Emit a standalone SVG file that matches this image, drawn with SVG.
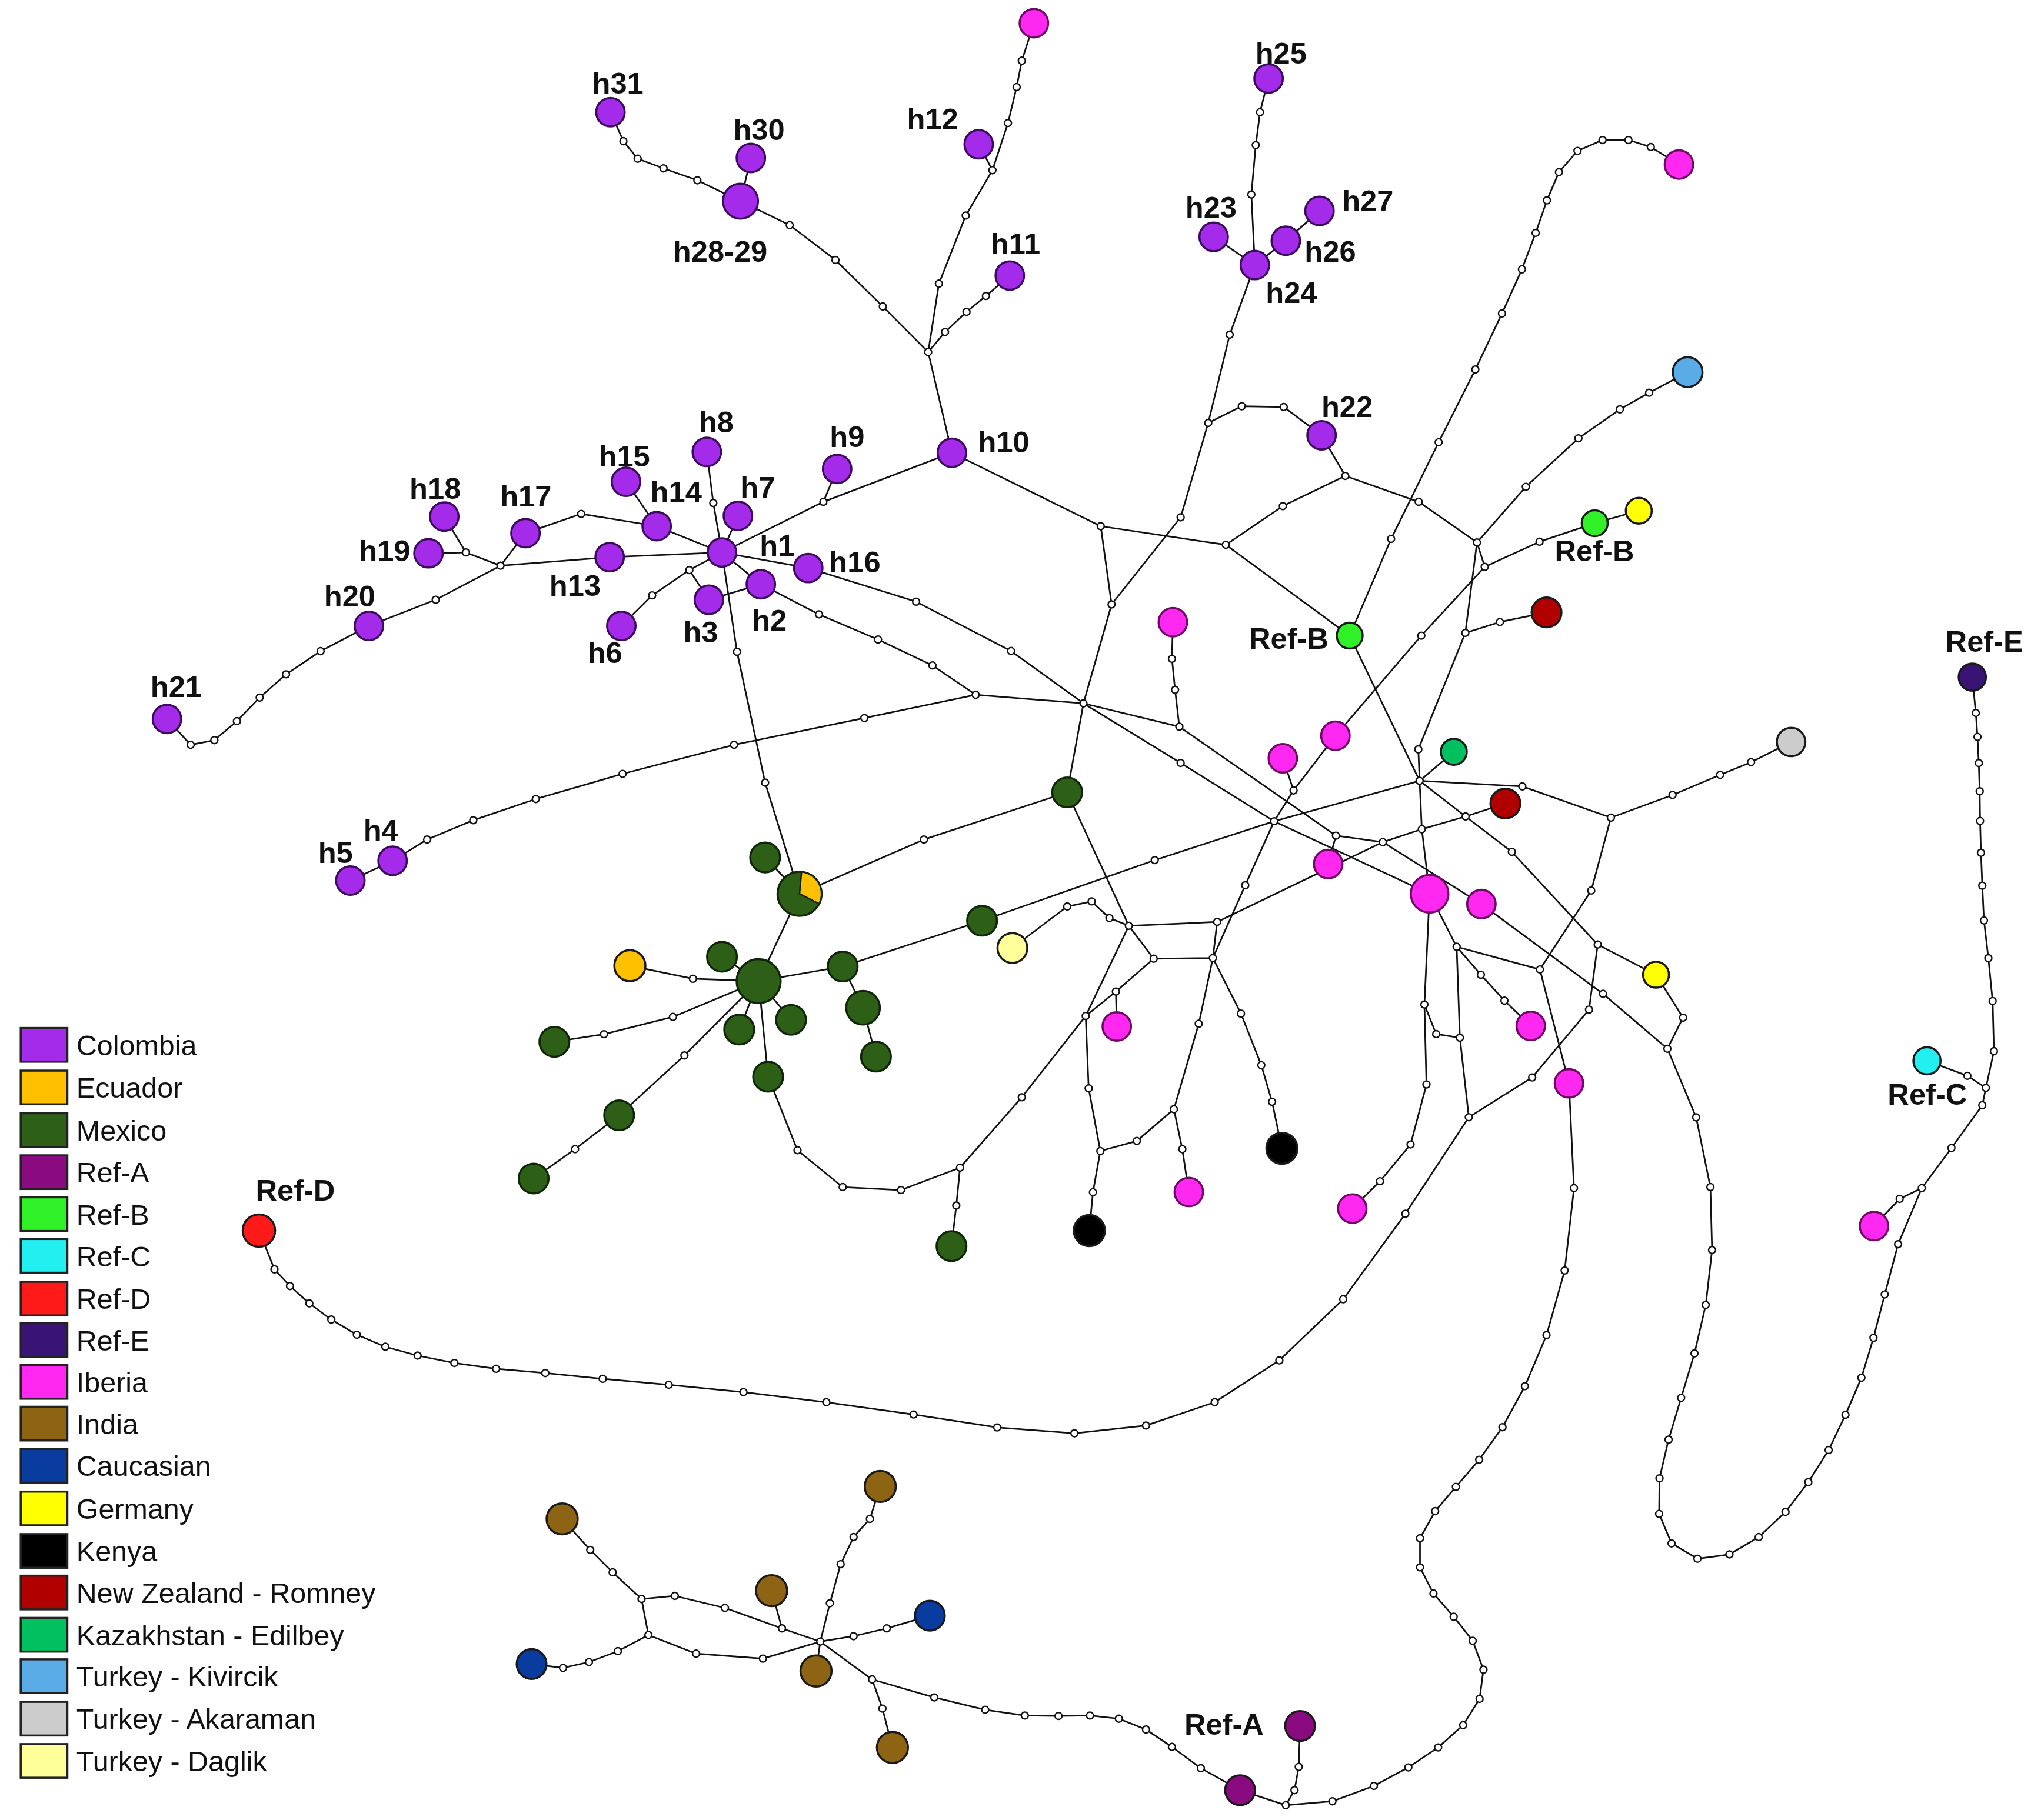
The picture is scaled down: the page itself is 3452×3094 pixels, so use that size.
<svg xmlns="http://www.w3.org/2000/svg" width="3452" height="3094" viewBox="0 0 3452 3094">
<style>
.e{fill:none;stroke:#111;stroke-width:1.25;stroke-linejoin:round}
.mv{fill:#fff;stroke:#111;stroke-width:1.1}
.n{stroke:#1a1a1a;stroke-width:1.6}
.c{fill:#A52BEA;stroke:#3B0B5C}
.ib{fill:#FF28F0;stroke:#6E0A63}
.mx{fill:#2D5F16;stroke:#10260A}
.ec{fill:#FFC000}
.ra{fill:#8A0A80}
.rb{fill:#30F028}
.rc{fill:#22F0F0}
.rd{fill:#FF1A1A}
.re{fill:#3A1474}
.in{fill:#8C6414}
.ca{fill:#0A3CA0}
.ge{fill:#FFFF00}
.ke{fill:#000}
.nz{fill:#B00000}
.kz{fill:#00C060}
.tk{fill:#5AACE6}
.ta{fill:#CCCCCC}
.td{fill:#FFFF9A}
.lb{font-family:"Liberation Sans",Arial,sans-serif;font-weight:bold;font-size:23px;fill:#111;text-anchor:middle}
.lg{font-family:"Liberation Sans",Arial,sans-serif;font-size:22px;fill:#111}
.sq{stroke:#222;stroke-width:1.6}
</style>
<rect width="3452" height="3094" fill="#fff"/>
<g transform="scale(2.2015 2.2021)">
<g id="connectors">
<path class="e" d="M471.3,86.6 L481.3,109 L492.3,122.5 L512.3,130 L538.4,139.2 L571.7,155.3"/>
<path class="e" d="M571.7,155.3 L579.7,121.9"/>
<path class="e" d="M571.7,155.3 L609.7,173.8 L645,200.7 L681.6,236.6 L716.6,271.8 L734.9,349.5"/>
<path class="e" d="M716.6,271.8 L724.9,219 L745.6,166.4 L766.2,131.4 L778.2,95 L784.9,67.2 L788.9,46.9 L798.2,17.9"/>
<path class="e" d="M766.2,131.4 L755.6,111.4"/>
<path class="e" d="M716.6,271.8 L729.6,256.3 L746.2,240.8 L761.2,228.5 L779.6,212.7"/>
<path class="e" d="M734.9,349.5 L635.7,387.4 L557.4,426.5"/>
<path class="e" d="M646.3,362 L635.7,387.4"/>
<path class="e" d="M545.7,348.9 L550.7,388.3 L557.4,426.5"/>
<path class="e" d="M569.7,398.2 L557.4,426.5 M624,438.5 L557.4,426.5 M587.4,451 L557.4,426.5 M547.3,463 L587.4,451"/>
<path class="e" d="M557.4,426.5 L532.2,440.1 L503.5,459.6 L479.7,483.2"/>
<path class="e" d="M532.2,440.1 L547.3,463"/>
<path class="e" d="M557.4,426.5 L470.7,430.1 L386.4,436.7"/>
<path class="e" d="M557.4,426.5 L507,406.2 L483.3,371.9"/>
<path class="e" d="M507,406.2 L448.7,396.7 L405.7,411.6 L386.4,436.7"/>
<path class="e" d="M386.4,436.7 L359.7,426.5 L343,398.8"/>
<path class="e" d="M359.7,426.5 L330.8,427.1"/>
<path class="e" d="M386.4,436.7 L336.4,463 L284.8,483.2 L247.5,502.7 L220.8,520.6 L200.5,538.5 L182.9,556.7 L165.5,571.4 L147.2,575 L128.9,555"/>
<path class="e" d="M937,182.8 L968.8,204.6 L992.7,185.8 L1018.7,162.8"/>
<path class="e" d="M979.4,60.6 L972.8,86.6 L969.5,112 L966.1,150.2 L968.8,204.6 L949.4,258.4 L932.8,326.5 L911.5,399.4 L858.2,466.6 L836.5,543 L823.9,611.7"/>
<path class="e" d="M932.8,326.5 L958.7,313.6 L991.1,314.2 L1020.3,336 L1038.6,367.4 L1095.3,387.4 L1140.3,418.8"/>
<path class="e" d="M1038.6,367.4 L990.4,390.7 L946.4,420.6"/>
<path class="e" d="M734.9,349.5 L849.8,406.2 L946.4,420.6 L1042,490.7"/>
<path class="e" d="M849.8,406.2 L858.2,466.6"/>
<path class="e" d="M1302.9,287.3 L1273.2,303.2 L1250.6,316 L1218.6,338.4 L1178,375.8 L1140.3,418.8 L1146.3,437.6 L1188.6,418.2 L1231.2,403.9 L1265.2,394.3"/>
<path class="e" d="M1146.3,437.6 L1097.3,490.7 L1031,568"/>
<path class="e" d="M1140.3,418.8 L1131.3,488.6 L1158,480.2 L1194,472.8"/>
<path class="e" d="M1131.3,488.6 L1095,578.5 L1096,602.8"/>
<path class="e" d="M1296.2,127 L1274.5,113.5 L1257.2,108.1 L1237.2,108.1 L1217.9,116.5 L1203.6,132.9 L1194.3,154.7 L1185.6,179.8 L1175,207.9 L1159.6,242 L1139,285.3 L1110.7,341.4 L1074,416 L1042,490.7 L1096,602.8"/>
<path class="e" d="M1031,568 L998.7,610.2 L983.7,634 L961.4,683.4 L936.4,739.6"/>
<path class="e" d="M990.4,585.4 L998.7,610.2"/>
<path class="e" d="M624,438.5 L707.3,464.5 L780.6,502.6 L836.5,543 L911.5,589 L983.7,634 L1103.7,690"/>
<path class="e" d="M587.4,451 L632.3,474.3 L677.9,493.7 L719.9,513.7 L753.3,536.4"/>
<path class="e" d="M270.5,679.8 L303.1,664.5 L329.8,648.1 L365.4,633.2 L413.7,616.8 L480.7,597.4 L566.7,575 L667.3,554.3 L753.3,536.4 L836.5,543 L910.5,561 L1031.4,645.1"/>
<path class="e" d="M905.5,480.3 L904.8,508.6 L907.2,532.5 L910.5,561"/>
<path class="e" d="M557.4,426.5 L569,503.2 L590.7,604.2 L617.3,690 L585.7,757.4"/>
<path class="e" d="M617.3,690 L590.7,661.9"/>
<path class="e" d="M617.3,690 L713.3,648.1 L823.9,611.7 L871.5,714.7"/>
<path class="e" d="M585.7,757.4 L557.4,738.6 M585.7,757.4 L570.7,794.8 M585.7,757.4 L610.7,787.3 M585.7,757.4 L593,831.2"/>
<path class="e" d="M585.7,757.4 L535,755.6 L486.3,745.5"/>
<path class="e" d="M585.7,757.4 L519.6,785 L466.3,798.4 L428,804.3"/>
<path class="e" d="M585.7,757.4 L528.4,814.8 L478,861 L444,887.1 L412,909.8"/>
<path class="e" d="M585.7,757.4 L650.6,746.1 L666.3,778 L676.3,815.7"/>
<path class="e" d="M650.6,746.1 L758.2,710.8 L891.5,664 L983.7,634 L1096,602.8"/>
<path class="e" d="M593,831.2 L615.7,888 L650.6,916.4 L695.6,918.7 L741.2,901.4 L788.9,847.1 L838.2,784.3 L871.5,714.7"/>
<path class="e" d="M741.2,901.4 L738.3,930.7 L734.6,962"/>
<path class="e" d="M781.6,731.8 L823.9,699.8 L842.8,695.9 L856.5,708.7 L871.5,714.7 L939.7,711.7 L1067.6,650.1"/>
<path class="e" d="M871.5,714.7 L890.7,740.1 L936.4,739.6 L939.7,711.7"/>
<path class="e" d="M890.7,740.1 L861.5,765.5 L838.2,784.3 L840.5,840.2 L849.5,888.6 L843.8,920.4 L841,950"/>
<path class="e" d="M861.5,765.5 L862.2,792.4"/>
<path class="e" d="M849.5,888.6 L877.7,880.8 L906.3,856.3 L925.5,790.3 L936.4,739.6 L958.1,782.5 L973.8,822.3 L982.1,850.6 L989.7,886.5"/>
<path class="e" d="M906.3,856.3 L912.8,887.1 L917.8,920.2"/>
<path class="e" d="M1025.4,667 L1031.4,645.1 L1067.6,650.1 L1097.7,640.1 L1131.5,630.3 L1162.2,620.3"/>
<path class="e" d="M1096,602.8 L1097.7,640.1 L1103.7,690"/>
<path class="e" d="M1067.6,650.1 L1143.7,697.9"/>
<path class="e" d="M1096,602.8 L1122.4,580.4"/>
<path class="e" d="M1096,602.8 L1175.3,607.1 L1243.7,631.2 L1291.3,613.7 L1328,598.2 L1351.9,588.4 L1382.8,572.8"/>
<path class="e" d="M1096,602.8 L1131.5,630.3 L1167.2,657.6 L1233.5,729.2 L1278.5,752.5"/>
<path class="e" d="M1243.7,631.2 L1228.5,687.5 L1188.9,748.4 L1211.3,836.3"/>
<path class="e" d="M1103.7,690 L1124.6,730.9 L1188.9,748.4"/>
<path class="e" d="M1124.6,730.9 L1143.3,752.5 L1161.5,772.5 L1181.8,792"/>
<path class="e" d="M1124.6,730.9 L1127.1,801.1 L1134,862.5"/>
<path class="e" d="M1103.7,690 L1099.7,775.5 L1101.3,837.2 L1089,883.5 L1065.4,911.9 L1044,933"/>
<path class="e" d="M1099.7,775.5 L1108.8,798.3 L1127.1,801.1"/>
<path class="e" d="M1233.5,729.2 L1226.8,779.4 L1182.9,831.8 L1134,862.5"/>
<path class="e" d="M1143.7,697.9 L1237.6,767.2 L1287.3,809.6"/>
<path class="e" d="M1278.5,752.5 L1299.4,785.6 L1287.3,809.6"/>
<path class="e" d="M1287.3,809.6 L1309.5,862.6 L1320.5,916.4 L1321.8,965 L1316.9,1007.4 L1308.2,1044.8 L1297.9,1079.1 L1288.2,1111.4 L1281.2,1141.3 L1280.9,1168.7 L1290.5,1191.5 L1310.5,1203.3 L1335.2,1200 L1357.8,1186.6 L1378.5,1167.2 L1396.1,1144.2 L1411.8,1119.4 L1424.8,1092.2 L1437.1,1063.6 L1446.4,1032.8 L1455.1,999.3 L1465.4,960.5 L1483.7,917.2 L1506.6,886.3 L1530.4,853.2 L1533.2,839.8 L1539.4,811.5 L1538.4,772.8 L1535.1,739.7 L1531.7,710.6 L1530.4,683.7 L1529.4,658.3 L1528.7,633.8 L1528.4,610.9 L1527.7,589.1 L1526.7,568.9 L1525.4,550.4 L1522.7,522.7"/>
<path class="e" d="M1483.7,917.2 L1466.6,925.5 L1446.8,946.5"/>
<path class="e" d="M1533.2,839.8 L1518.9,830.5 L1487.7,818.9"/>
<path class="e" d="M1211.3,836.3 L1215.2,917.2 L1208,980.8 L1194,1030.7 L1177.3,1070.1 L1160,1101.8 L1142,1126.9 L1124,1147.8 L1108,1166.6 L1096.3,1187.5 L1096.3,1210 L1106.7,1230.2 L1122.3,1248.1 L1137,1266.7 L1145.3,1289 L1142.3,1311.5 L1129.6,1331.8 L1110.3,1349 L1087.3,1364.4 L1060.7,1378.7 L1028.7,1390.6 L992.7,1393.6 L957.4,1382 L927.1,1365 L904.8,1348.6 L884.8,1335.2 L863.8,1326.8 L841.5,1324.4 L817.2,1324.7 L791.2,1324.4 L760.6,1319.9 L721.3,1310.4 L673.3,1296.5 L633.3,1267.3"/>
<path class="e" d="M992.7,1393.6 L999.4,1382 L1002.7,1364 L1003.7,1332.4"/>
<path class="e" d="M673.3,1296.5 L681.3,1319 L689,1349"/>
<path class="e" d="M633.3,1267.3 L630,1290"/>
<path class="e" d="M633.3,1267.3 L659,1263.1 L684.6,1257.1 L717.9,1247.3"/>
<path class="e" d="M633.3,1267.3 L640.7,1237.7 L649,1207.5 L659,1186.6 L671.6,1172.6 L679.6,1147.5"/>
<path class="e" d="M633.3,1267.3 L603.7,1257.1 L595.7,1228"/>
<path class="e" d="M603.7,1257.1 L559.7,1241.3 L521,1232 L495.3,1234.4 L473,1213.8 L455.7,1196.5 L434,1172.6"/>
<path class="e" d="M633.3,1267.3 L589,1280.4 L537.4,1276.6 L500.6,1262.2 L477,1274.7 L454.7,1283.1 L434.7,1287.6 L410.4,1284.6"/>
<path class="e" d="M495.3,1234.4 L500.6,1262.2"/>
<path class="e" d="M199.9,950 L211.9,979.9 L223.9,992.8 L238.8,1006.2 L255.8,1018.7 L275.5,1030.4 L297.5,1039.7 L322.4,1046.5 L350.8,1052.2 L383,1056.7 L421,1060 L465.3,1064.4 L516.3,1069 L574,1074.7 L638,1082.5 L705.3,1092 L769.9,1102 L829.5,1106.5 L884.8,1100.5 L937.8,1082.5 L987.7,1050.2 L1037,1003 L1085,937 L1134,862.5"/>
<g id="median-vectors">
<circle class="mv" r="2.7" cx="481.3" cy="109"/><circle class="mv" r="2.7" cx="492.3" cy="122.5"/><circle class="mv" r="2.7" cx="512.3" cy="130"/><circle class="mv" r="2.7" cx="538.4" cy="139.2"/>
<circle class="mv" r="2.7" cx="609.7" cy="173.8"/><circle class="mv" r="2.7" cx="645" cy="200.7"/><circle class="mv" r="2.7" cx="681.6" cy="236.6"/><circle class="mv" r="2.7" cx="716.6" cy="271.8"/>
<circle class="mv" r="2.7" cx="724.9" cy="219"/><circle class="mv" r="2.7" cx="745.6" cy="166.4"/><circle class="mv" r="2.7" cx="766.2" cy="131.4"/><circle class="mv" r="2.7" cx="778.2" cy="95"/><circle class="mv" r="2.7" cx="784.9" cy="67.2"/><circle class="mv" r="2.7" cx="788.9" cy="46.9"/>
<circle class="mv" r="2.7" cx="729.6" cy="256.3"/><circle class="mv" r="2.7" cx="746.2" cy="240.8"/><circle class="mv" r="2.7" cx="761.2" cy="228.5"/>
<circle class="mv" r="2.7" cx="635.7" cy="387.4"/><circle class="mv" r="2.7" cx="550.7" cy="388.3"/><circle class="mv" r="2.7" cx="532.2" cy="440.1"/><circle class="mv" r="2.7" cx="503.5" cy="459.6"/>
<circle class="mv" r="2.7" cx="386.4" cy="436.7"/><circle class="mv" r="2.7" cx="359.7" cy="426.5"/><circle class="mv" r="2.7" cx="448.7" cy="396.7"/><circle class="mv" r="2.7" cx="336.4" cy="463"/>
<circle class="mv" r="2.7" cx="247.5" cy="502.7"/><circle class="mv" r="2.7" cx="220.8" cy="520.6"/><circle class="mv" r="2.7" cx="200.5" cy="538.5"/><circle class="mv" r="2.7" cx="182.9" cy="556.7"/><circle class="mv" r="2.7" cx="165.5" cy="571.4"/><circle class="mv" r="2.7" cx="147.2" cy="575"/>
<circle class="mv" r="2.7" cx="972.8" cy="86.6"/><circle class="mv" r="2.7" cx="969.5" cy="112"/><circle class="mv" r="2.7" cx="966.1" cy="150.2"/>
<circle class="mv" r="2.7" cx="949.4" cy="258.4"/><circle class="mv" r="2.7" cx="932.8" cy="326.5"/><circle class="mv" r="2.7" cx="911.5" cy="399.4"/><circle class="mv" r="2.7" cx="858.2" cy="466.6"/><circle class="mv" r="2.7" cx="836.5" cy="543"/>
<circle class="mv" r="2.7" cx="958.7" cy="313.6"/><circle class="mv" r="2.7" cx="991.1" cy="314.2"/>
<circle class="mv" r="2.7" cx="1038.6" cy="367.4"/><circle class="mv" r="2.7" cx="1095.3" cy="387.4"/><circle class="mv" r="2.7" cx="1140.3" cy="418.8"/><circle class="mv" r="2.7" cx="990.4" cy="390.7"/><circle class="mv" r="2.7" cx="946.4" cy="420.6"/><circle class="mv" r="2.7" cx="849.8" cy="406.2"/>
<circle class="mv" r="2.7" cx="1273.2" cy="303.2"/><circle class="mv" r="2.7" cx="1250.6" cy="316"/><circle class="mv" r="2.7" cx="1218.6" cy="338.4"/><circle class="mv" r="2.7" cx="1178" cy="375.8"/>
<circle class="mv" r="2.7" cx="1146.3" cy="437.6"/><circle class="mv" r="2.7" cx="1188.6" cy="418.2"/><circle class="mv" r="2.7" cx="1097.3" cy="490.7"/>
<circle class="mv" r="2.7" cx="1131.3" cy="488.6"/><circle class="mv" r="2.7" cx="1158" cy="480.2"/><circle class="mv" r="2.7" cx="1095" cy="578.5"/><circle class="mv" r="2.7" cx="1096" cy="602.8"/>
<circle class="mv" r="2.7" cx="1274.5" cy="113.5"/><circle class="mv" r="2.7" cx="1257.2" cy="108.1"/><circle class="mv" r="2.7" cx="1237.2" cy="108.1"/><circle class="mv" r="2.7" cx="1217.9" cy="116.5"/><circle class="mv" r="2.7" cx="1203.6" cy="132.9"/><circle class="mv" r="2.7" cx="1194.3" cy="154.7"/><circle class="mv" r="2.7" cx="1185.6" cy="179.8"/><circle class="mv" r="2.7" cx="1175" cy="207.9"/><circle class="mv" r="2.7" cx="1159.6" cy="242"/><circle class="mv" r="2.7" cx="1139" cy="285.3"/><circle class="mv" r="2.7" cx="1110.7" cy="341.4"/><circle class="mv" r="2.7" cx="1074" cy="416"/>
<circle class="mv" r="2.7" cx="998.7" cy="610.2"/><circle class="mv" r="2.7" cx="983.7" cy="634"/><circle class="mv" r="2.7" cx="961.4" cy="683.4"/>
<circle class="mv" r="2.7" cx="707.3" cy="464.5"/><circle class="mv" r="2.7" cx="780.6" cy="502.6"/><circle class="mv" r="2.7" cx="911.5" cy="589"/>
<circle class="mv" r="2.7" cx="632.3" cy="474.3"/><circle class="mv" r="2.7" cx="677.9" cy="493.7"/><circle class="mv" r="2.7" cx="719.9" cy="513.7"/><circle class="mv" r="2.7" cx="753.3" cy="536.4"/>
<circle class="mv" r="2.7" cx="329.8" cy="648.1"/><circle class="mv" r="2.7" cx="365.4" cy="633.2"/><circle class="mv" r="2.7" cx="413.7" cy="616.8"/><circle class="mv" r="2.7" cx="480.7" cy="597.4"/><circle class="mv" r="2.7" cx="566.7" cy="575"/><circle class="mv" r="2.7" cx="667.3" cy="554.3"/>
<circle class="mv" r="2.7" cx="910.5" cy="561"/><circle class="mv" r="2.7" cx="1031.4" cy="645.1"/><circle class="mv" r="2.7" cx="904.8" cy="508.6"/><circle class="mv" r="2.7" cx="907.2" cy="532.5"/>
<circle class="mv" r="2.7" cx="569" cy="503.2"/><circle class="mv" r="2.7" cx="590.7" cy="604.2"/><circle class="mv" r="2.7" cx="713.3" cy="648.1"/><circle class="mv" r="2.7" cx="535" cy="755.6"/><circle class="mv" r="2.7" cx="519.6" cy="785"/><circle class="mv" r="2.7" cx="466.3" cy="798.4"/><circle class="mv" r="2.7" cx="528.4" cy="814.8"/><circle class="mv" r="2.7" cx="444" cy="887.1"/>
<circle class="mv" r="2.7" cx="891.5" cy="664"/>
<circle class="mv" r="2.7" cx="615.7" cy="888"/><circle class="mv" r="2.7" cx="650.6" cy="916.4"/><circle class="mv" r="2.7" cx="695.6" cy="918.7"/><circle class="mv" r="2.7" cx="741.2" cy="901.4"/><circle class="mv" r="2.7" cx="788.9" cy="847.1"/><circle class="mv" r="2.7" cx="838.2" cy="784.3"/><circle class="mv" r="2.7" cx="738.3" cy="930.7"/>
<circle class="mv" r="2.7" cx="823.9" cy="699.8"/><circle class="mv" r="2.7" cx="842.8" cy="695.9"/><circle class="mv" r="2.7" cx="856.5" cy="708.7"/><circle class="mv" r="2.7" cx="871.5" cy="714.7"/><circle class="mv" r="2.7" cx="939.7" cy="711.7"/><circle class="mv" r="2.7" cx="890.7" cy="740.1"/><circle class="mv" r="2.7" cx="936.4" cy="739.6"/>
<circle class="mv" r="2.7" cx="861.5" cy="765.5"/><circle class="mv" r="2.7" cx="840.5" cy="840.2"/><circle class="mv" r="2.7" cx="849.5" cy="888.6"/><circle class="mv" r="2.7" cx="843.8" cy="920.4"/><circle class="mv" r="2.7" cx="877.7" cy="880.8"/><circle class="mv" r="2.7" cx="906.3" cy="856.3"/><circle class="mv" r="2.7" cx="925.5" cy="790.3"/><circle class="mv" r="2.7" cx="912.8" cy="887.1"/>
<circle class="mv" r="2.7" cx="958.1" cy="782.5"/><circle class="mv" r="2.7" cx="973.8" cy="822.3"/><circle class="mv" r="2.7" cx="982.1" cy="850.6"/>
<circle class="mv" r="2.7" cx="1067.6" cy="650.1"/><circle class="mv" r="2.7" cx="1097.7" cy="640.1"/><circle class="mv" r="2.7" cx="1131.5" cy="630.3"/>
<circle class="mv" r="2.7" cx="1175.3" cy="607.1"/><circle class="mv" r="2.7" cx="1243.7" cy="631.2"/><circle class="mv" r="2.7" cx="1291.3" cy="613.7"/><circle class="mv" r="2.7" cx="1328" cy="598.2"/><circle class="mv" r="2.7" cx="1351.9" cy="588.4"/>
<circle class="mv" r="2.7" cx="1167.2" cy="657.6"/><circle class="mv" r="2.7" cx="1233.5" cy="729.2"/><circle class="mv" r="2.7" cx="1228.5" cy="687.5"/><circle class="mv" r="2.7" cx="1188.9" cy="748.4"/><circle class="mv" r="2.7" cx="1124.6" cy="730.9"/><circle class="mv" r="2.7" cx="1143.3" cy="752.5"/><circle class="mv" r="2.7" cx="1161.5" cy="772.5"/><circle class="mv" r="2.7" cx="1127.1" cy="801.1"/><circle class="mv" r="2.7" cx="1134" cy="862.5"/>
<circle class="mv" r="2.7" cx="1099.7" cy="775.5"/><circle class="mv" r="2.7" cx="1101.3" cy="837.2"/><circle class="mv" r="2.7" cx="1089" cy="883.5"/><circle class="mv" r="2.7" cx="1065.4" cy="911.9"/><circle class="mv" r="2.7" cx="1108.8" cy="798.3"/><circle class="mv" r="2.7" cx="1226.8" cy="779.4"/><circle class="mv" r="2.7" cx="1182.9" cy="831.8"/><circle class="mv" r="2.7" cx="1237.6" cy="767.2"/><circle class="mv" r="2.7" cx="1287.3" cy="809.6"/><circle class="mv" r="2.7" cx="1299.4" cy="785.6"/>
<circle class="mv" r="2.7" cx="1309.5" cy="862.6"/><circle class="mv" r="2.7" cx="1320.5" cy="916.4"/><circle class="mv" r="2.7" cx="1321.8" cy="965"/><circle class="mv" r="2.7" cx="1316.9" cy="1007.4"/><circle class="mv" r="2.7" cx="1308.2" cy="1044.8"/><circle class="mv" r="2.7" cx="1297.9" cy="1079.1"/><circle class="mv" r="2.7" cx="1288.2" cy="1111.4"/><circle class="mv" r="2.7" cx="1281.2" cy="1141.3"/><circle class="mv" r="2.7" cx="1280.9" cy="1168.7"/><circle class="mv" r="2.7" cx="1290.5" cy="1191.5"/><circle class="mv" r="2.7" cx="1310.5" cy="1203.3"/><circle class="mv" r="2.7" cx="1335.2" cy="1200"/><circle class="mv" r="2.7" cx="1357.8" cy="1186.6"/><circle class="mv" r="2.7" cx="1378.5" cy="1167.2"/><circle class="mv" r="2.7" cx="1396.1" cy="1144.2"/><circle class="mv" r="2.7" cx="1411.8" cy="1119.4"/><circle class="mv" r="2.7" cx="1424.8" cy="1092.2"/><circle class="mv" r="2.7" cx="1437.1" cy="1063.6"/><circle class="mv" r="2.7" cx="1446.4" cy="1032.8"/><circle class="mv" r="2.7" cx="1455.1" cy="999.3"/><circle class="mv" r="2.7" cx="1465.4" cy="960.5"/><circle class="mv" r="2.7" cx="1483.7" cy="917.2"/><circle class="mv" r="2.7" cx="1506.6" cy="886.3"/><circle class="mv" r="2.7" cx="1530.4" cy="853.2"/><circle class="mv" r="2.7" cx="1533.2" cy="839.8"/><circle class="mv" r="2.7" cx="1539.4" cy="811.5"/><circle class="mv" r="2.7" cx="1538.4" cy="772.8"/><circle class="mv" r="2.7" cx="1535.1" cy="739.7"/><circle class="mv" r="2.7" cx="1531.7" cy="710.6"/><circle class="mv" r="2.7" cx="1530.4" cy="683.7"/><circle class="mv" r="2.7" cx="1529.4" cy="658.3"/><circle class="mv" r="2.7" cx="1528.7" cy="633.8"/><circle class="mv" r="2.7" cx="1528.4" cy="610.9"/><circle class="mv" r="2.7" cx="1527.7" cy="589.1"/><circle class="mv" r="2.7" cx="1526.7" cy="568.9"/><circle class="mv" r="2.7" cx="1525.4" cy="550.4"/>
<circle class="mv" r="2.7" cx="1466.6" cy="925.5"/><circle class="mv" r="2.7" cx="1518.9" cy="830.5"/>
<circle class="mv" r="2.7" cx="1215.2" cy="917.2"/><circle class="mv" r="2.7" cx="1208" cy="980.8"/><circle class="mv" r="2.7" cx="1194" cy="1030.7"/><circle class="mv" r="2.7" cx="1177.3" cy="1070.1"/><circle class="mv" r="2.7" cx="1160" cy="1101.8"/><circle class="mv" r="2.7" cx="1142" cy="1126.9"/><circle class="mv" r="2.7" cx="1124" cy="1147.8"/><circle class="mv" r="2.7" cx="1108" cy="1166.6"/><circle class="mv" r="2.7" cx="1096.3" cy="1187.5"/><circle class="mv" r="2.7" cx="1096.3" cy="1210"/><circle class="mv" r="2.7" cx="1106.7" cy="1230.2"/><circle class="mv" r="2.7" cx="1122.3" cy="1248.1"/><circle class="mv" r="2.7" cx="1137" cy="1266.7"/><circle class="mv" r="2.7" cx="1145.3" cy="1289"/><circle class="mv" r="2.7" cx="1142.3" cy="1311.5"/><circle class="mv" r="2.7" cx="1129.6" cy="1331.8"/><circle class="mv" r="2.7" cx="1110.3" cy="1349"/><circle class="mv" r="2.7" cx="1087.3" cy="1364.4"/><circle class="mv" r="2.7" cx="1060.7" cy="1378.7"/><circle class="mv" r="2.7" cx="1028.7" cy="1390.6"/><circle class="mv" r="2.7" cx="992.7" cy="1393.6"/><circle class="mv" r="2.7" cx="999.4" cy="1382"/><circle class="mv" r="2.7" cx="1002.7" cy="1364"/>
<circle class="mv" r="2.7" cx="927.1" cy="1365"/><circle class="mv" r="2.7" cx="904.8" cy="1348.6"/><circle class="mv" r="2.7" cx="884.8" cy="1335.2"/><circle class="mv" r="2.7" cx="863.8" cy="1326.8"/><circle class="mv" r="2.7" cx="841.5" cy="1324.4"/><circle class="mv" r="2.7" cx="817.2" cy="1324.7"/><circle class="mv" r="2.7" cx="791.2" cy="1324.4"/><circle class="mv" r="2.7" cx="760.6" cy="1319.9"/><circle class="mv" r="2.7" cx="721.3" cy="1310.4"/><circle class="mv" r="2.7" cx="673.3" cy="1296.5"/><circle class="mv" r="2.7" cx="681.3" cy="1319"/>
<circle class="mv" r="2.7" cx="633.3" cy="1267.3"/><circle class="mv" r="2.7" cx="659" cy="1263.1"/><circle class="mv" r="2.7" cx="684.6" cy="1257.1"/><circle class="mv" r="2.7" cx="640.7" cy="1237.7"/><circle class="mv" r="2.7" cx="649" cy="1207.5"/><circle class="mv" r="2.7" cx="659" cy="1186.6"/><circle class="mv" r="2.7" cx="671.6" cy="1172.6"/><circle class="mv" r="2.7" cx="603.7" cy="1257.1"/><circle class="mv" r="2.7" cx="559.7" cy="1241.3"/><circle class="mv" r="2.7" cx="521" cy="1232"/><circle class="mv" r="2.7" cx="495.3" cy="1234.4"/><circle class="mv" r="2.7" cx="589" cy="1280.4"/><circle class="mv" r="2.7" cx="537.4" cy="1276.6"/><circle class="mv" r="2.7" cx="500.6" cy="1262.2"/><circle class="mv" r="2.7" cx="473" cy="1213.8"/><circle class="mv" r="2.7" cx="455.7" cy="1196.5"/><circle class="mv" r="2.7" cx="477" cy="1274.7"/><circle class="mv" r="2.7" cx="454.7" cy="1283.1"/><circle class="mv" r="2.7" cx="434.7" cy="1287.6"/>
<circle class="mv" r="2.7" cx="211.9" cy="979.9"/><circle class="mv" r="2.7" cx="223.9" cy="992.8"/><circle class="mv" r="2.7" cx="238.8" cy="1006.2"/><circle class="mv" r="2.7" cx="255.8" cy="1018.7"/><circle class="mv" r="2.7" cx="275.5" cy="1030.4"/><circle class="mv" r="2.7" cx="297.5" cy="1039.7"/><circle class="mv" r="2.7" cx="322.4" cy="1046.5"/><circle class="mv" r="2.7" cx="350.8" cy="1052.2"/><circle class="mv" r="2.7" cx="383" cy="1056.7"/><circle class="mv" r="2.7" cx="421" cy="1060"/><circle class="mv" r="2.7" cx="465.3" cy="1064.4"/><circle class="mv" r="2.7" cx="516.3" cy="1069"/><circle class="mv" r="2.7" cx="574" cy="1074.7"/><circle class="mv" r="2.7" cx="638" cy="1082.5"/><circle class="mv" r="2.7" cx="705.3" cy="1092"/><circle class="mv" r="2.7" cx="769.9" cy="1102"/><circle class="mv" r="2.7" cx="829.5" cy="1106.5"/><circle class="mv" r="2.7" cx="884.8" cy="1100.5"/><circle class="mv" r="2.7" cx="937.8" cy="1082.5"/><circle class="mv" r="2.7" cx="987.7" cy="1050.2"/><circle class="mv" r="2.7" cx="1037" cy="1003"/><circle class="mv" r="2.7" cx="1085" cy="937"/>
</g>
</g>
<g id="nodes">
<g id="h1"><circle class="n c" cx="557.4" cy="426.5" r="11"/><text class="lb" x="600" y="429">h1</text></g>
<g id="h2"><circle class="n c" cx="587.4" cy="451" r="11"/><text class="lb" x="594" y="487">h2</text></g>
<g id="h3"><circle class="n c" cx="547.3" cy="463" r="11"/><text class="lb" x="541" y="496">h3</text></g>
<g id="h4"><circle class="n c" cx="303.1" cy="664.5" r="11"/><text class="lb" x="294" y="649">h4</text></g>
<g id="h5"><circle class="n c" cx="270.5" cy="679.8" r="11"/><text class="lb" x="259" y="666">h5</text></g>
<g id="h6"><circle class="n c" cx="479.7" cy="483.2" r="11"/><text class="lb" x="467" y="512">h6</text></g>
<g id="h7"><circle class="n c" cx="569.7" cy="398.2" r="11"/><text class="lb" x="585" y="384">h7</text></g>
<g id="h8"><circle class="n c" cx="545.7" cy="348.9" r="11"/><text class="lb" x="553" y="334">h8</text></g>
<g id="h9"><circle class="n c" cx="646.3" cy="362" r="11"/><text class="lb" x="654" y="345">h9</text></g>
<g id="h10"><circle class="n c" cx="734.9" cy="349.5" r="11"/><text class="lb" x="775" y="349">h10</text></g>
<g id="h11"><circle class="n c" cx="779.6" cy="212.7" r="11"/><text class="lb" x="784" y="196">h11</text></g>
<g id="h12"><circle class="n c" cx="755.6" cy="111.4" r="11"/><text class="lb" x="720" y="100">h12</text></g>
<g id="h13"><circle class="n c" cx="470.7" cy="430.1" r="11"/><text class="lb" x="444" y="460">h13</text></g>
<g id="h14"><circle class="n c" cx="507" cy="406.2" r="11"/><text class="lb" x="522" y="388">h14</text></g>
<g id="h15"><circle class="n c" cx="483.3" cy="371.9" r="11"/><text class="lb" x="482" y="360">h15</text></g>
<g id="h16"><circle class="n c" cx="624" cy="438.5" r="11"/><text class="lb" x="660" y="442">h16</text></g>
<g id="h17"><circle class="n c" cx="405.7" cy="411.6" r="11"/><text class="lb" x="406" y="391">h17</text></g>
<g id="h18"><circle class="n c" cx="343" cy="398.8" r="11"/><text class="lb" x="336" y="385">h18</text></g>
<g id="h19"><circle class="n c" cx="330.8" cy="427.1" r="11"/><text class="lb" x="297" y="433">h19</text></g>
<g id="h20"><circle class="n c" cx="284.8" cy="483.2" r="11"/><text class="lb" x="270" y="468">h20</text></g>
<g id="h21"><circle class="n c" cx="128.9" cy="555" r="11"/><text class="lb" x="136" y="538">h21</text></g>
<g id="h22"><circle class="n c" cx="1020.3" cy="336" r="11"/><text class="lb" x="1040" y="322">h22</text></g>
<g id="h23"><circle class="n c" cx="937" cy="182.8" r="11"/><text class="lb" x="935" y="168">h23</text></g>
<g id="h24"><circle class="n c" cx="968.8" cy="204.6" r="11"/><text class="lb" x="997" y="234">h24</text></g>
<g id="h25"><circle class="n c" cx="979.4" cy="60.6" r="11"/><text class="lb" x="989" y="49">h25</text></g>
<g id="h26"><circle class="n c" cx="992.7" cy="185.8" r="11"/><text class="lb" x="1027" y="202">h26</text></g>
<g id="h27"><circle class="n c" cx="1018.7" cy="162.8" r="11"/><text class="lb" x="1056" y="163">h27</text></g>
<g id="h28-29"><circle class="n c" cx="571.7" cy="155.3" r="13.5"/><text class="lb" x="556" y="202">h28-29</text></g>
<g id="h30"><circle class="n c" cx="579.7" cy="121.9" r="11"/><text class="lb" x="586" y="108">h30</text></g>
<g id="h31"><circle class="n c" cx="471.3" cy="86.6" r="11"/><text class="lb" x="477" y="72">h31</text></g>
<g id="iberia-1"><circle class="n ib" cx="798.2" cy="17.9" r="11"/></g>
<g id="iberia-2"><circle class="n ib" cx="1296.2" cy="127" r="11"/></g>
<g id="iberia-3"><circle class="n ib" cx="905.5" cy="480.3" r="11"/></g>
<g id="iberia-4"><circle class="n ib" cx="1031" cy="568" r="11"/></g>
<g id="iberia-5"><circle class="n ib" cx="990.4" cy="585.4" r="11"/></g>
<g id="iberia-6"><circle class="n ib" cx="1025.4" cy="667" r="11"/></g>
<g id="iberia-7"><circle class="n ib" cx="1103.7" cy="690" r="14.5"/></g>
<g id="iberia-8"><circle class="n ib" cx="1143.7" cy="697.9" r="11"/></g>
<g id="iberia-9"><circle class="n ib" cx="1181.8" cy="792" r="11"/></g>
<g id="iberia-10"><circle class="n ib" cx="1211.3" cy="836.3" r="11"/></g>
<g id="iberia-11"><circle class="n ib" cx="1446.8" cy="946.5" r="11"/></g>
<g id="iberia-12"><circle class="n ib" cx="1044" cy="933" r="11"/></g>
<g id="iberia-13"><circle class="n ib" cx="917.8" cy="920.2" r="11"/></g>
<g id="iberia-14"><circle class="n ib" cx="862.2" cy="792.4" r="11"/></g>
<g id="kivircik"><circle class="n tk" cx="1302.9" cy="287.3" r="11.5"/></g>
<g id="ref-b-1"><circle class="n rb" cx="1042" cy="490.7" r="10"/><text class="lb" x="995" y="501">Ref-B</text></g>
<g id="ref-b-2"><circle class="n rb" cx="1231.2" cy="403.9" r="10"/><text class="lb" x="1231" y="433">Ref-B</text></g>
<g id="germany-1"><circle class="n ge" cx="1265.2" cy="394.3" r="10"/></g>
<g id="germany-2"><circle class="n ge" cx="1278.5" cy="752.5" r="10"/></g>
<g id="nz-1"><circle class="n nz" cx="1194" cy="472.8" r="11.5"/></g>
<g id="nz-2"><circle class="n nz" cx="1162.2" cy="620.3" r="11.5"/></g>
<g id="kazakh"><circle class="n kz" cx="1122.4" cy="580.4" r="10"/></g>
<g id="akaraman"><circle class="n ta" cx="1382.8" cy="572.8" r="11"/></g>
<g id="ref-e"><circle class="n re" cx="1522.7" cy="522.7" r="10.5"/><text class="lb" x="1532" y="503">Ref-E</text></g>
<g id="ref-c"><circle class="n rc" cx="1487.7" cy="818.9" r="10.5"/><text class="lb" x="1488" y="853">Ref-C</text></g>
<g id="kenya-1"><circle class="n ke" cx="989.7" cy="886.5" r="12"/></g>
<g id="kenya-2"><circle class="n ke" cx="841" cy="950" r="12"/></g>
<g id="daglik"><circle class="n td" cx="781.6" cy="731.8" r="11.5"/></g>
<g id="mexico-1"><circle class="n mx" cx="823.9" cy="611.7" r="11.5"/></g>
<g id="mexico-2"><circle class="n mx" cx="758.2" cy="710.8" r="11.5"/></g>
<g id="mexico-ecuador"><circle class="n mx" cx="617.3" cy="690" r="17"/><path d="M617.3,690 L618.8,673.1 A17,17 0 0,1 632.4,697.7 Z" fill="#FFC000" stroke="#10260A" stroke-width="1.2"/></g>
<g id="mexico-3"><circle class="n mx" cx="590.7" cy="661.9" r="11.5"/></g>
<g id="mexico-0"><circle class="n mx" cx="585.7" cy="757.4" r="17"/></g>
<g id="mexico-4"><circle class="n mx" cx="557.4" cy="738.6" r="11.5"/></g>
<g id="mexico-5"><circle class="n mx" cx="570.7" cy="794.8" r="11.5"/></g>
<g id="mexico-6"><circle class="n mx" cx="610.7" cy="787.3" r="11.5"/></g>
<g id="mexico-7"><circle class="n mx" cx="593" cy="831.2" r="11.5"/></g>
<g id="mexico-8"><circle class="n mx" cx="650.6" cy="746.1" r="11.5"/></g>
<g id="mexico-9"><circle class="n mx" cx="666.3" cy="778" r="13"/></g>
<g id="mexico-10"><circle class="n mx" cx="676.3" cy="815.7" r="11.5"/></g>
<g id="ecuador"><circle class="n ec" cx="486.3" cy="745.5" r="12"/></g>
<g id="mexico-11"><circle class="n mx" cx="428" cy="804.3" r="11.5"/></g>
<g id="mexico-12"><circle class="n mx" cx="478" cy="861" r="11.5"/></g>
<g id="mexico-13"><circle class="n mx" cx="412" cy="909.8" r="11.5"/></g>
<g id="mexico-14"><circle class="n mx" cx="734.6" cy="962" r="11.5"/></g>
<g id="ref-d"><circle class="n rd" cx="199.9" cy="950" r="12.5"/><text class="lb" x="228" y="927">Ref-D</text></g>
<g id="india-1"><circle class="n in" cx="434" cy="1172.6" r="12"/></g>
<g id="india-2"><circle class="n in" cx="595.7" cy="1228" r="12"/></g>
<g id="india-3"><circle class="n in" cx="679.6" cy="1147.5" r="12"/></g>
<g id="india-4"><circle class="n in" cx="630" cy="1290" r="12"/></g>
<g id="india-5"><circle class="n in" cx="689" cy="1349" r="12"/></g>
<g id="caucasian-1"><circle class="n ca" cx="410.4" cy="1284.6" r="11.5"/></g>
<g id="caucasian-2"><circle class="n ca" cx="717.9" cy="1247.3" r="11.5"/></g>
<g id="ref-a-1"><circle class="n ra" cx="957.4" cy="1382" r="11.5"/></g>
<g id="ref-a-2"><circle class="n ra" cx="1003.7" cy="1332.4" r="11.5"/><text class="lb" x="945" y="1339">Ref-A</text></g>
</g>
<g id="legend">
<rect class="sq c" x="16" y="793.6" width="36" height="26"/><text class="lg" x="59" y="814.6">Colombia</text>
<rect class="sq ec" x="16" y="826.5" width="36" height="26"/><text class="lg" x="59" y="847.5">Ecuador</text>
<rect class="sq mx" x="16" y="859.4" width="36" height="26"/><text class="lg" x="59" y="880.4">Mexico</text>
<rect class="sq ra" x="16" y="891.9" width="36" height="26"/><text class="lg" x="59" y="912.9">Ref-A</text>
<rect class="sq rb" x="16" y="924.3" width="36" height="26"/><text class="lg" x="59" y="945.3">Ref-B</text>
<rect class="sq rc" x="16" y="956.5" width="36" height="26"/><text class="lg" x="59" y="977.5">Ref-C</text>
<rect class="sq rd" x="16" y="989.5" width="36" height="26"/><text class="lg" x="59" y="1010.5">Ref-D</text>
<rect class="sq re" x="16" y="1021.5" width="36" height="26"/><text class="lg" x="59" y="1042.5">Ref-E</text>
<rect class="sq ib" x="16" y="1053.8" width="36" height="26"/><text class="lg" x="59" y="1074.8">Iberia</text>
<rect class="sq in" x="16" y="1086" width="36" height="26"/><text class="lg" x="59" y="1107">India</text>
<rect class="sq ca" x="16" y="1118.6" width="36" height="26"/><text class="lg" x="59" y="1139.6">Caucasian</text>
<rect class="sq ge" x="16" y="1151.5" width="36" height="26"/><text class="lg" x="59" y="1172.5">Germany</text>
<rect class="sq ke" x="16" y="1184.3" width="36" height="26"/><text class="lg" x="59" y="1205.3">Kenya</text>
<rect class="sq nz" x="16" y="1216.4" width="36" height="26"/><text class="lg" x="59" y="1237.4">New Zealand - Romney</text>
<rect class="sq kz" x="16" y="1249" width="36" height="26"/><text class="lg" x="59" y="1270">Kazakhstan - Edilbey</text>
<rect class="sq tk" x="16" y="1281" width="36" height="26"/><text class="lg" x="59" y="1302">Turkey - Kivircik</text>
<rect class="sq ta" x="16" y="1313.8" width="36" height="26"/><text class="lg" x="59" y="1334.8">Turkey - Akaraman</text>
<rect class="sq td" x="16" y="1346.4" width="36" height="26"/><text class="lg" x="59" y="1367.4">Turkey - Daglik</text>
</g>
</g>
</svg>
